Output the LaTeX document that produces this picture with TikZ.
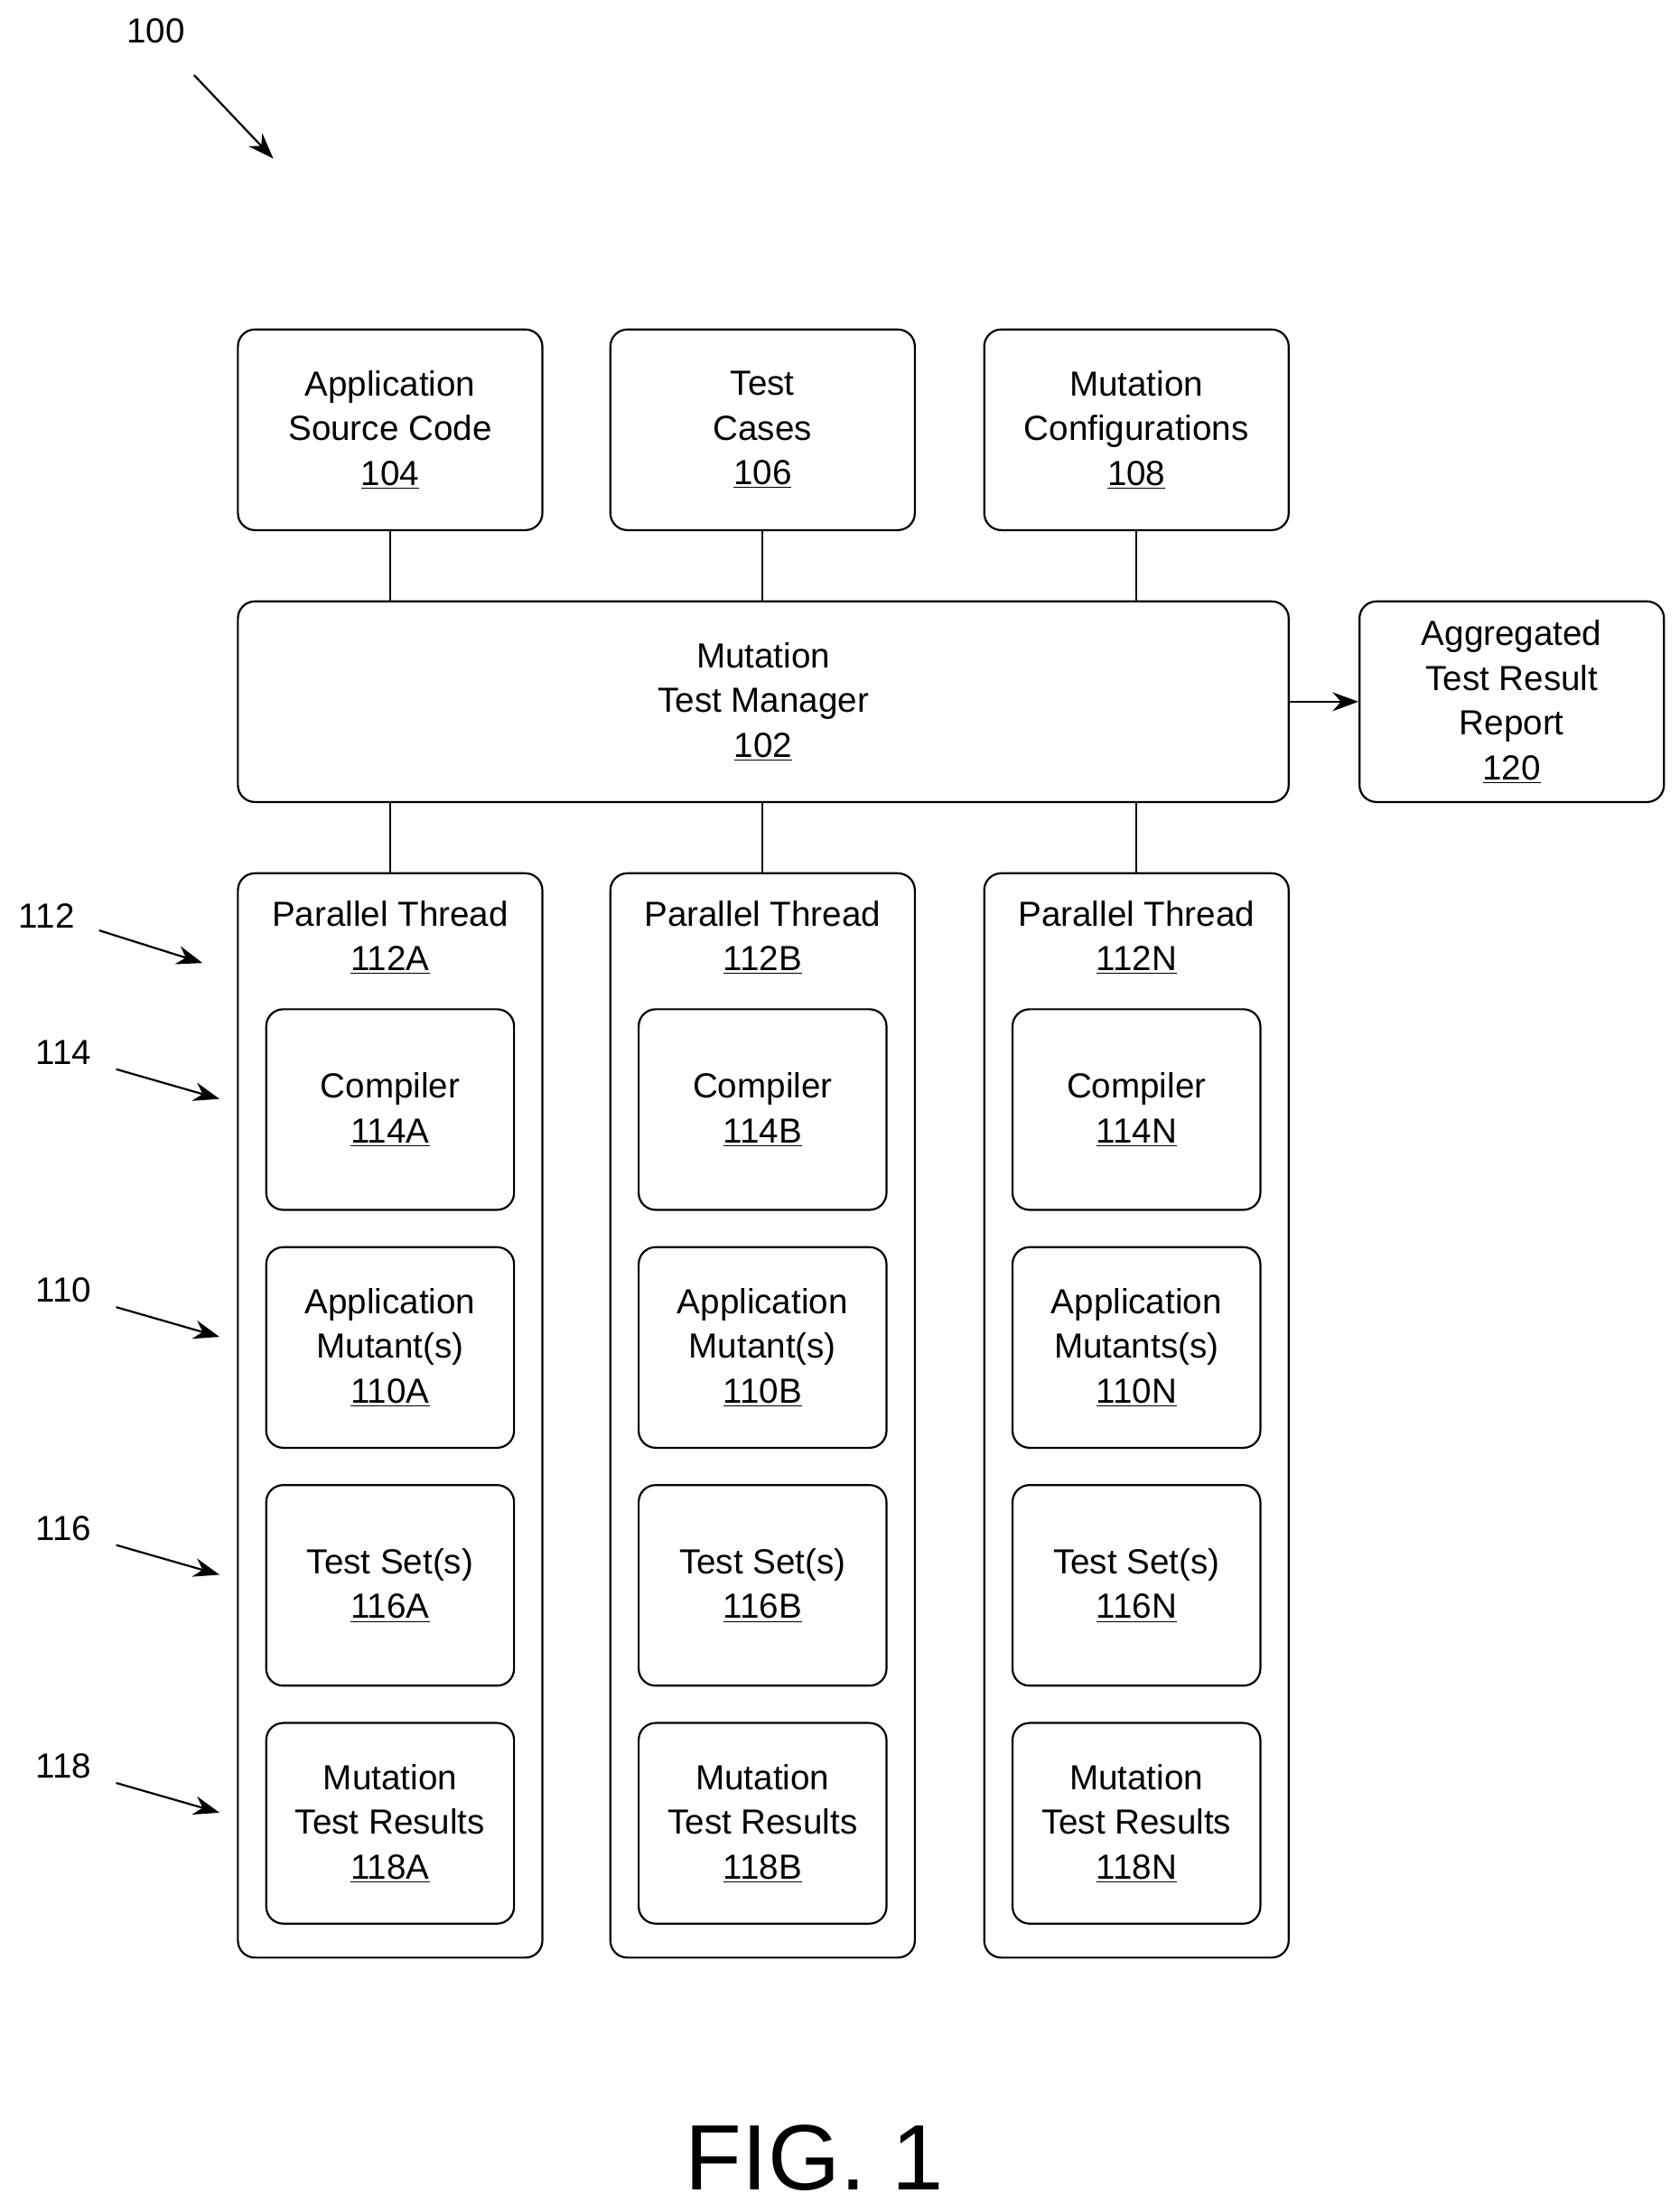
\documentclass[tikz,border=0pt]{standalone}
\usepackage{fontspec}
\setmainfont{Liberation Sans}
\usetikzlibrary{arrows.meta}
\begin{document}
\begin{tikzpicture}[x=0.03cm,y=-0.03cm,
  box/.style={draw,line width=1.2pt,rounded corners=0.36cm,align=center,font=\fontsize{21}{27}\selectfont,inner sep=0pt},
  top/.style={box,minimum width=6.45cm,minimum height=4.25cm},
  inner/.style={box,minimum width=5.25cm,minimum height=4.25cm},
  thread/.style={box,minimum width=6.45cm,minimum height=22.97cm},
  txt/.style={align=center,font=\fontsize{21}{27}\selectfont,inner sep=0pt},
  ln/.style={line width=1.2pt},
  arr/.style={line width=1.2pt,-{Stealth[length=0.55cm,width=0.4cm]}}]
\useasboundingbox (0,0) rectangle (1186,1562);
\node[txt] (l100) at (110,22) {100};
\coordinate (a100s) at (137,53); \coordinate (a100e) at (193,112);
\draw[arr] (a100s) -- (a100e);

\node[top] (n104) at (275.5,303.5) {Application\\Source Code\\\underline{104}};
\node[top] (n106) at (538.5,303.5) {Test\\Cases\\\underline{106}};
\node[top] (n108) at (802.5,303.5) {Mutation\\Configurations\\\underline{108}};
\node[box,minimum width=22.26cm,minimum height=4.25cm] (n102) at (539,495.5) {Mutation\\Test Manager\\\underline{102}};
\node[top] (n120) at (1067.5,495.5) {Aggregated\\Test Result\\Report\\\underline{120}};
\draw[ln] (n104) -- (n104|-n102.north);
\draw[ln] (n106) -- (n106|-n102.north);
\draw[ln] (n108) -- (n108|-n102.north);
\draw[arr] (n102.east) -- (n120.west);

\foreach \x/\s/\mt in {275.5/A/Mutant(s),538.5/B/Mutant(s),802.5/N/Mutants(s)}{
  \node[thread] (t\s) at (\x,999.5) {};
  \draw[ln] (\x,567) -- (t\s.north);
  \node[txt] (tl\s) at (\x,662) {Parallel Thread\\\underline{112\s}};
  \node[inner] (c\s) at (\x,783.5) {Compiler\\\underline{114\s}};
  \node[inner] (m\s) at (\x,951.5) {Application\\\mt\\\underline{110\s}};
  \node[inner] (s\s) at (\x,1119.5) {Test Set(s)\\\underline{116\s}};
  \node[inner] (r\s) at (\x,1287.5) {Mutation\\Test Results\\\underline{118\s}};
}

\node[txt] (l112) at (33,647) {112};
\coordinate (a112s) at (70,657); \coordinate (a112e) at (143,680);
\draw[arr] (a112s) -- (a112e);
\foreach \n/\y in {114/743,110/911,116/1079,118/1247}{
  \node[txt] (l\n) at (45,\y) {\n};
  \coordinate (a\n s) at (82,\y+12); \coordinate (a\n e) at (155,\y+33);
  \draw[arr] (a\n s) -- (a\n e);
}
\node[txt,font=\fontsize{56}{66}\selectfont] (fig) at (575,1524) {FIG. 1};
\end{tikzpicture}
\end{document}
